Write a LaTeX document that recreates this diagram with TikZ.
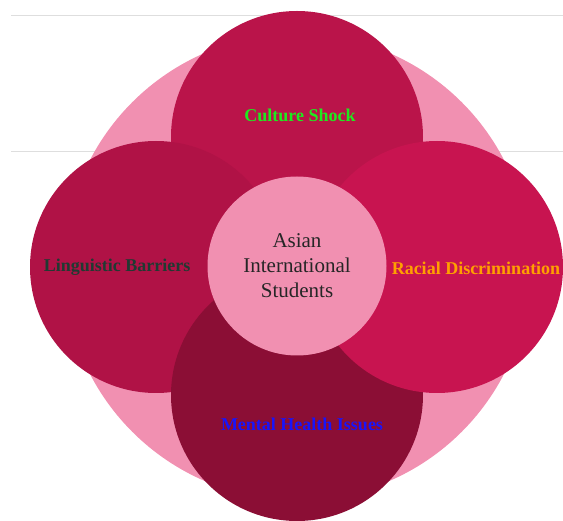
\documentclass[tikz,border=0pt]{standalone}
\usepackage{fontspec}
\setmainfont{Liberation Serif}
\usepackage{xcolor}
\usepackage{tikz}
\definecolor{blushpink}{RGB}{241, 144, 177}
\definecolor{crimsontop}{RGB}{186, 20, 74}
\definecolor{crimsonleft}{RGB}{176, 18, 70}
\definecolor{crimsonright}{RGB}{200, 20, 80}
\definecolor{crimsondark}{RGB}{139, 14, 53}
\definecolor{shockgreen}{RGB}{30, 235, 30}
\definecolor{barrierteal}{RGB}{32, 58, 50}
\definecolor{racialorange}{RGB}{255, 160, 0}
\definecolor{healthblue}{RGB}{25, 20, 250}
\definecolor{rulegray}{RGB}{222, 222, 222}

\begin{document}
\begin{tikzpicture}[x=1pt, y=-1pt,
    petal/.style={circle, inner sep=0pt, minimum size=252pt},
    issue/.style={font=\fontsize{18}{22}\selectfont\bfseries, inner sep=1pt}]
    \useasboundingbox (0,0) rectangle (563,521);

    \draw[rulegray, line width=0.8pt] (11,15) -- (563,15);
    \draw[rulegray, line width=0.8pt] (11,151) -- (563,151);

    \node[circle, fill=blushpink, inner sep=0pt, minimum size=466pt] (backdrop) at (297,267) {};

    \node[petal, fill=crimsontop] (top) at (297,137) {};
    \node[petal, fill=crimsonleft] (left) at (156,267) {};
    \node[petal, fill=crimsondark] (bottom) at (297,395) {};
    \node[petal, fill=crimsonright] (right) at (437,267) {};

    \node[circle, fill=blushpink, inner sep=0pt, minimum size=179pt, align=center,
          font=\fontsize{21}{25}\selectfont, text=black!85] (students) at (297,266) {Asian\\International\\Students};

    \node[issue, text=shockgreen] (shock) at (300,115) {Culture Shock};
    \node[issue, text=barrierteal] (barriers) at (117,267) {Linguistic Barriers};
    \node[issue, text=racialorange] (racial) at (476,268) {Racial Discrimination};
    \node[issue, text=healthblue] (health) at (302,424) {Mental Health Issues};
\end{tikzpicture}
\end{document}
